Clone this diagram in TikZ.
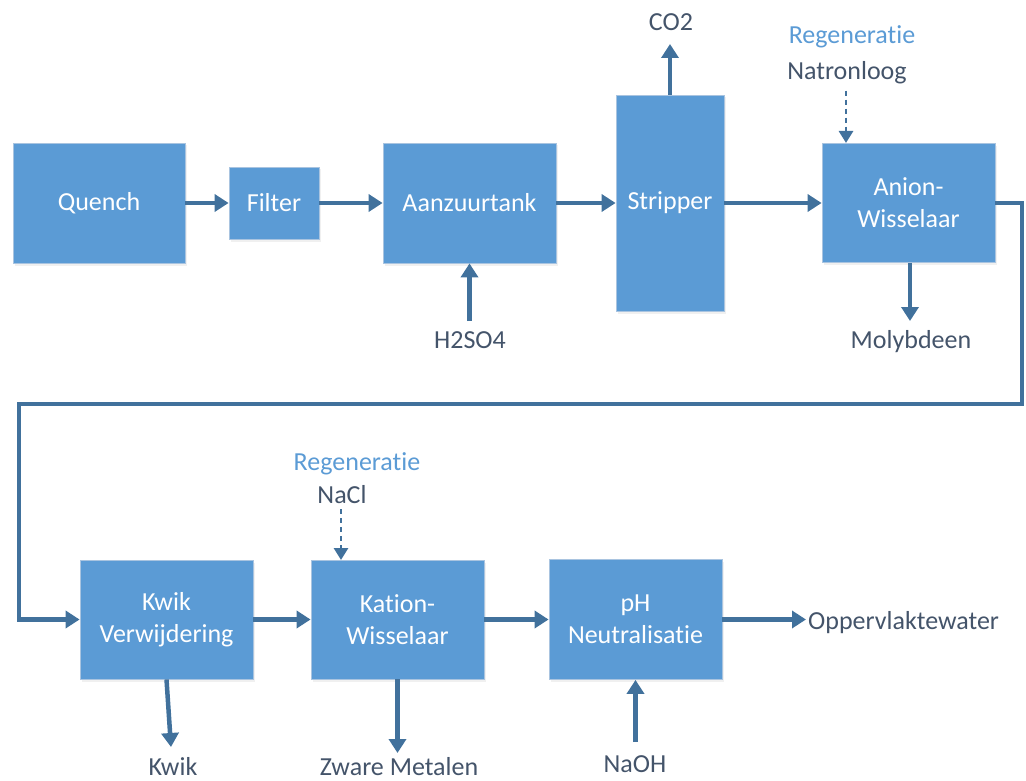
\documentclass[tikz,border=0pt]{standalone}
\usepackage{fontspec}
\setmainfont{Carlito}[Ligatures=NoCommon]
\usetikzlibrary{arrows.meta,shadows}
\definecolor{boxblue}{HTML}{5B9BD5}
\definecolor{boxedge}{HTML}{A9C4E0}
\definecolor{flow}{HTML}{41719C}
\definecolor{labeltext}{HTML}{44546A}
\definecolor{regen}{HTML}{5B9BD5}

\begin{document}
\begin{tikzpicture}[x=1pt,y=-1pt,
  unit/.style={draw=boxedge, line width=0.8pt, fill=boxblue, text=white,
    font=\fontsize{26}{32}\selectfont, align=center, inner sep=0pt,
    drop shadow={opacity=0.12, shadow xshift=1.5pt, shadow yshift=-2.5pt}},
  lbl/.style={text=labeltext, font=\fontsize{26}{30}\selectfont, anchor=base, inner sep=2pt},
  regenlbl/.style={lbl, text=regen},
  flowarrow/.style={draw=flow, line width=4.5pt,
    -{Triangle[width=17pt,length=14pt]}},
  feedarrow/.style={draw=flow, line width=2.8pt, dash pattern=on 5pt off 4pt,
    -{Triangle[width=14pt,length=12pt]}}]

\useasboundingbox (0,0) rectangle (1026,781);

% process units, upper row
\node[unit, minimum width=172pt, minimum height=120pt] (quench) at (99,203) {Quench};
\node[unit, minimum width=90pt, minimum height=72pt] (filter) at (274,203) {Filter};
\node[unit, minimum width=173pt, minimum height=120pt] (aanzuur) at (469.5,203) {Aanzuurtank};
\node[unit, minimum width=108pt, minimum height=216pt] (stripper) at (670,203) {Stripper};
\node[unit, minimum width=173pt, minimum height=119pt] (anion) at (908.5,203) {Anion-\\Wisselaar};

% process units, lower row
\node[unit, minimum width=173pt, minimum height=119pt] (kwik) at (166.5,619.5) {Kwik\\Verwijdering};
\node[unit, minimum width=173pt, minimum height=119pt] (kation) at (397.5,619.5) {Kation-\\Wisselaar};
\node[unit, minimum width=173pt, minimum height=120pt] (ph) at (635.5,619.5) {pH\\Neutralisatie};

% stream labels
\node[lbl] (co2) at (671,31) {CO2};
\node[regenlbl] (regenA) at (852,44) {Regeneratie};
\node[lbl] (natron) at (847,80) {Natronloog};
\node[lbl] (h2so4) at (470,348) {H2SO4};
\node[lbl] (molyb) at (911,348) {Molybdeen};
\node[regenlbl] (regenB) at (357,470) {Regeneratie};
\node[lbl] (nacl) at (342,503) {NaCl};
\node[lbl] (kwiklbl) at (173,775) {Kwik};
\node[lbl] (zware) at (399,775) {Zware Metalen};
\node[lbl] (naoh) at (635,772) {NaOH};
\node[lbl, anchor=base west] (opp) at (806,629) {Oppervlaktewater};

% free ends of streams
\coordinate (co2tip) at (670,44);
\coordinate (h2so4tail) at (469.5,321);
\coordinate (molybtip) at (910,321);
\coordinate (kwiktip) at (171,747);
\coordinate (zwaretip) at (397.5,753);
\coordinate (naohtail) at (635.5,742);
\coordinate (loopA) at (1022,203);
\coordinate (loopB) at (1022,404);
\coordinate (loopC) at (19,404);
\coordinate (loopD) at (19,619.5);

% main flow
\draw[flowarrow] (quench) -- (filter);
\draw[flowarrow] (filter) -- (aanzuur);
\draw[flowarrow] (aanzuur) -- (stripper);
\draw[flowarrow] (stripper) -- (anion);
\draw[flowarrow] (anion.east) -- (loopA) -- (loopB) -- (loopC) -- (loopD) -- (kwik.west);
\draw[flowarrow] (kwik) -- (kation);
\draw[flowarrow] (kation) -- (ph);
\draw[flowarrow] (ph.east) -- (opp.west |- ph.east);

% side streams
\draw[flowarrow] (stripper.north) -- (co2tip);
\draw[flowarrow] (h2so4tail) -- (aanzuur.south);
\draw[flowarrow] (anion.south -| molybtip) -- (molybtip);
\draw[flowarrow] (kwik.south) -- (kwiktip);
\draw[flowarrow] (kation.south) -- (zwaretip);
\draw[flowarrow] (naohtail) -- (ph.south);

% regeneration feeds
\draw[feedarrow] (natron.south -| 846,0) ++(0,4) -- (846,143);
\draw[feedarrow] (nacl.south -| 341,0) ++(0,4) -- (341,560);
\end{tikzpicture}
\end{document}
